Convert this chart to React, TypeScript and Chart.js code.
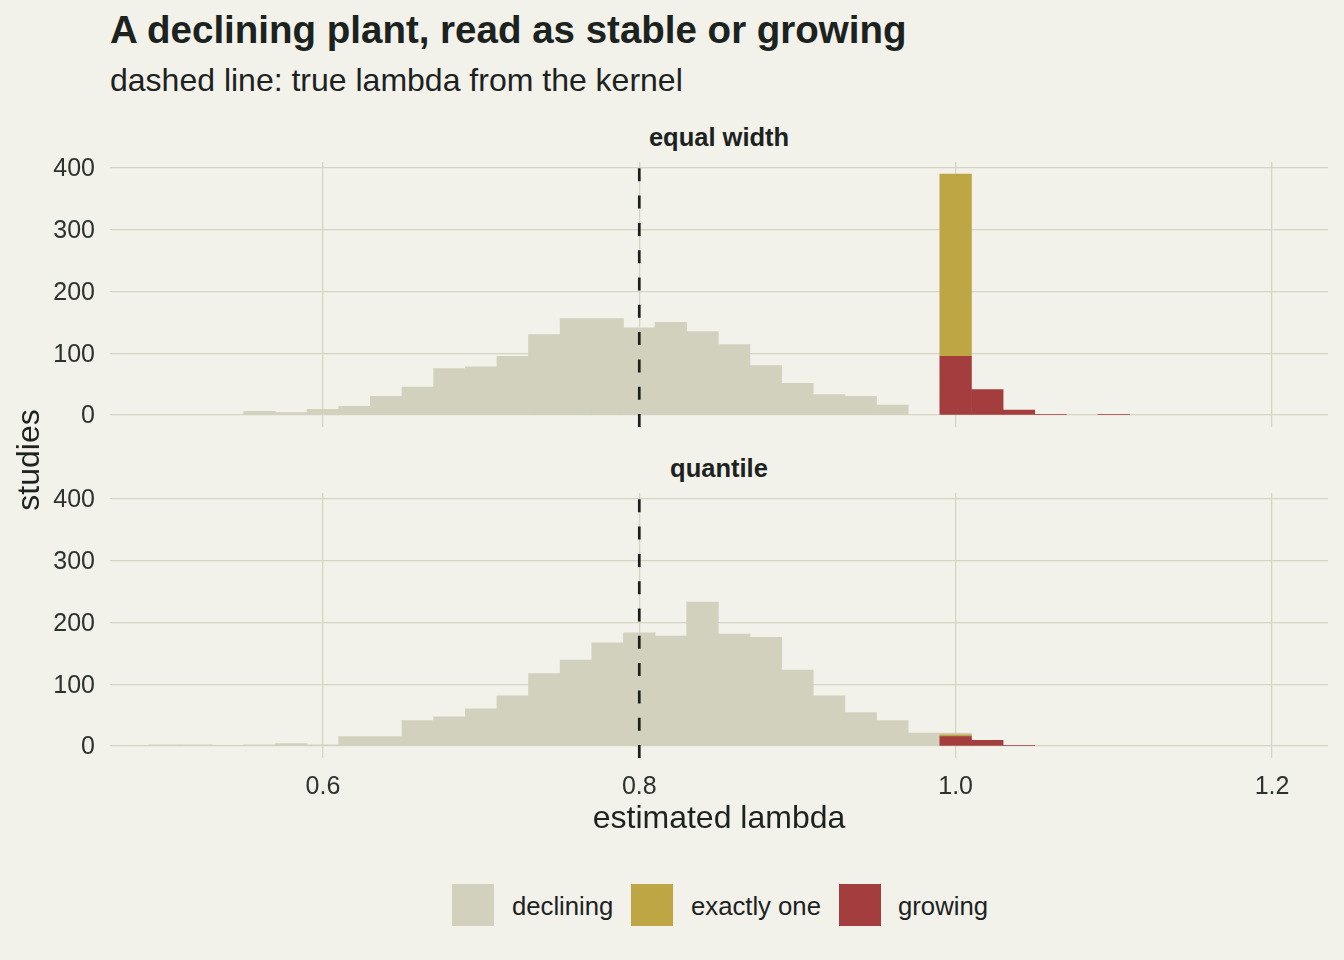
import React, { useEffect, useRef } from "react";
import { Chart, registerables } from "chart.js";

Chart.register(...registerables);

// ---------- data ----------
const BIN_CENTERS_EQUAL = [
  0.56, 0.58, 0.6, 0.62, 0.64, 0.66, 0.68, 0.7, 0.72, 0.74, 0.76, 0.78, 0.8, 0.82,
  0.84, 0.86, 0.88, 0.9, 0.92, 0.94, 0.96, 0.98, 1.0, 1.02, 1.04, 1.06, 1.08, 1.1,
];
const DECLINING_EQUAL = [
  6, 4, 9, 14, 30, 45, 75, 78, 95, 130, 156, 156, 141, 150,
  135, 114, 80, 51, 33, 30, 16, 0, 0, 0, 0, 0, 0, 0,
];
const EXACT_EQUAL = [
  0, 0, 0, 0, 0, 0, 0, 0, 0, 0, 0, 0, 0, 0,
  0, 0, 0, 0, 0, 0, 0, 0, 295, 0, 0, 0, 0, 0,
];
const GROWING_EQUAL = [
  0, 0, 0, 0, 0, 0, 0, 0, 0, 0, 0, 0, 0, 0,
  0, 0, 0, 0, 0, 0, 0, 0, 95, 41, 8, 1, 0, 1,
];

const BIN_CENTERS_QUANTILE = [
  0.5, 0.52, 0.54, 0.56, 0.58, 0.6, 0.62, 0.64, 0.66, 0.68, 0.7, 0.72, 0.74, 0.76,
  0.78, 0.8, 0.82, 0.84, 0.86, 0.88, 0.9, 0.92, 0.94, 0.96, 0.98, 1.0, 1.02, 1.04,
];
const DECLINING_QUANTILE = [
  2, 2, 1, 2, 4, 2, 15, 15, 41, 47, 60, 81, 117, 139,
  167, 183, 178, 233, 181, 176, 123, 81, 54, 41, 21, 3, 0, 0,
];
const EXACT_QUANTILE = [
  0, 0, 0, 0, 0, 0, 0, 0, 0, 0, 0, 0, 0, 0,
  0, 0, 0, 0, 0, 0, 0, 0, 0, 0, 0, 3, 0, 0,
];
const GROWING_QUANTILE = [
  0, 0, 0, 0, 0, 0, 0, 0, 0, 0, 0, 0, 0, 0,
  0, 0, 0, 0, 0, 0, 0, 0, 0, 0, 0, 15, 9, 1,
];

const TRUE_LAMBDA = 0.8;
const X_TICKS = [0.6, 0.8, 1.0, 1.2];
const Y_TICKS = [0, 100, 200, 300, 400];
const SERIES_LABELS = ["declining", "exactly one", "growing"];
const PANEL_LABELS = ["equal width", "quantile"];

// ---------- style ----------
const BG = "#F2F1EA";
const GREY = "#D2D1BD";
const YELLOW = "#BEA645";
const RED = "#A43E3E";
const GRID = "#D6D5C4";
const DASH = "#1B1F1C";
const TEXT = "#1C231F";
const TICK = "#2C322E";
const FONT = '"Liberation Sans", Arial, Helvetica, sans-serif';

const X_MIN = 0.4654;
const X_MAX = 1.2354;
const Y_MIN = -19.5;
const Y_MAX = 409.5;

Chart.defaults.font.family = FONT;

const dashPlugin = {
  id: "trueLambda",
  afterDatasetsDraw(chart: any) {
    const { ctx, chartArea, scales } = chart;
    const x = scales.x.getPixelForValue(TRUE_LAMBDA);
    ctx.save();
    ctx.strokeStyle = DASH;
    ctx.lineWidth = 2.7;
    ctx.lineCap = "butt";
    ctx.setLineDash([13, 14.3]);
    ctx.lineDashOffset = 0;
    ctx.beginPath();
    ctx.moveTo(x, chartArea.bottom);
    ctx.lineTo(x, chartArea.top);
    ctx.stroke();
    ctx.restore();
  },
};

type PanelProps = {
  centers: number[];
  declining: number[];
  exact: number[];
  growing: number[];
  showX: boolean;
  top: number;
  axisH: number;
};

const PAD_TOP = 24;
const AREA_H = 265;

function Panel({ centers, declining, exact, growing, showX, top, axisH }: PanelProps) {
  const ref = useRef<HTMLCanvasElement>(null);
  const height = PAD_TOP + AREA_H + axisH;
  useEffect(() => {
    if (!ref.current) return;
    const pts = (arr: number[]) =>
      arr.map((v, i) => ({ x: centers[i], y: v === 0 ? null : v }));
    const chart = new Chart(ref.current, {
      type: "bar",
      data: {
        datasets: [
          { label: SERIES_LABELS[2], data: pts(growing), backgroundColor: RED },
          { label: SERIES_LABELS[1], data: pts(exact), backgroundColor: YELLOW },
          { label: SERIES_LABELS[0], data: pts(declining), backgroundColor: GREY },
        ] as any,
      },
      options: {
        animation: false,
        responsive: false,
        maintainAspectRatio: false,
        layout: { padding: { top: PAD_TOP, right: 16, left: 0, bottom: 0 } },
        plugins: { legend: { display: false }, tooltip: { enabled: false } },
        datasets: {
          bar: { barPercentage: 1, categoryPercentage: 1, borderWidth: 0 },
        } as any,
        scales: {
          x: {
            type: "linear",
            stacked: true,
            min: X_MIN,
            max: X_MAX,
            offset: false,
            afterBuildTicks: (s: any) => {
              s.ticks = X_TICKS.map((v) => ({ value: v }));
            },
            afterFit: (s: any) => {
              s.height = axisH;
              s.paddingLeft = 0;
              s.paddingRight = 0;
            },
            grid: { color: GRID, lineWidth: 1.3, drawTicks: false, offset: false },
            border: { display: false },
            ticks: {
              display: showX,
              padding: 14,
              color: TICK,
              font: { size: 25 },
              callback: (v: any) => Number(v).toFixed(1),
            },
          },
          y: {
            type: "linear",
            stacked: true,
            min: Y_MIN,
            max: Y_MAX,
            afterBuildTicks: (s: any) => {
              s.ticks = Y_TICKS.map((v) => ({ value: v }));
            },
            afterFit: (s: any) => {
              s.width = 110;
              s.paddingTop = 0;
              s.paddingBottom = 0;
            },
            grid: { color: GRID, lineWidth: 1.3, drawTicks: false },
            border: { display: false },
            ticks: {
              padding: 15,
              labelOffset: 1.5,
              color: TICK,
              font: { size: 25 },
              callback: (v: any) => String(v),
            },
          },
        },
      } as any,
      plugins: [dashPlugin],
    });
    return () => chart.destroy();
  }, []);
  return (
    <canvas
      ref={ref}
      width={1344}
      height={height}
      style={{ position: "absolute", left: 0, top, width: 1344, height }}
    />
  );
}

const abs = (o: React.CSSProperties): React.CSSProperties => ({
  position: "absolute",
  whiteSpace: "nowrap",
  margin: 0,
  ...o,
});

export default function App() {
  const legendColors = [GREY, YELLOW, RED];
  const legendKeyX = [452, 631, 839];
  const legendTextX = [512, 691, 898];
  return (
    <div
      style={{
        position: "fixed",
        left: 0,
        top: 0,
        width: 1344,
        height: 960,
        background: BG,
        fontFamily: FONT,
        color: TEXT,
        overflow: "hidden",
      }}
    >
      <div style={abs({ left: 110, top: 11.4, fontSize: 38.5, lineHeight: "38.5px", fontWeight: 700 })}>
        A declining plant, read as stable or growing
      </div>
      <div style={abs({ left: 110, top: 63.9, fontSize: 32, lineHeight: "32px" })}>
        dashed line: true lambda from the kernel
      </div>

      <div
        style={abs({
          left: 519,
          width: 400,
          textAlign: "center",
          top: 124.9,
          fontSize: 25.5,
          lineHeight: "25.5px",
          fontWeight: 700,
        })}
      >
        {PANEL_LABELS[0]}
      </div>
      <div
        style={abs({
          left: 519,
          width: 400,
          textAlign: "center",
          top: 455.9,
          fontSize: 25.5,
          lineHeight: "25.5px",
          fontWeight: 700,
        })}
      >
        {PANEL_LABELS[1]}
      </div>

      <Panel
        centers={BIN_CENTERS_EQUAL}
        declining={DECLINING_EQUAL}
        exact={EXACT_EQUAL}
        growing={GROWING_EQUAL}
        showX={false}
        top={162 - PAD_TOP}
        axisH={10}
      />
      <Panel
        centers={BIN_CENTERS_QUANTILE}
        declining={DECLINING_QUANTILE}
        exact={EXACT_QUANTILE}
        growing={GROWING_QUANTILE}
        showX={true}
        top={493 - PAD_TOP}
        axisH={60}
      />

      <div
        style={abs({
          left: 519,
          width: 400,
          textAlign: "center",
          top: 801.2,
          fontSize: 32,
          lineHeight: "32px",
        })}
      >
        estimated lambda
      </div>
      <div
        style={abs({
          left: 27.6 - 100,
          width: 200,
          textAlign: "center",
          top: 460 - 16,
          fontSize: 32,
          lineHeight: "32px",
          transform: "rotate(-90deg)",
          transformOrigin: "50% 50%",
        })}
      >
        studies
      </div>

      {SERIES_LABELS.map((lab, i) => (
        <React.Fragment key={lab}>
          <div
            style={abs({
              left: legendKeyX[i],
              top: 884,
              width: 42,
              height: 42,
              background: legendColors[i],
            })}
          />
          <div style={abs({ left: legendTextX[i], top: 894.2, fontSize: 25.7, lineHeight: "25.7px" })}>
            {lab}
          </div>
        </React.Fragment>
      ))}
    </div>
  );
}
